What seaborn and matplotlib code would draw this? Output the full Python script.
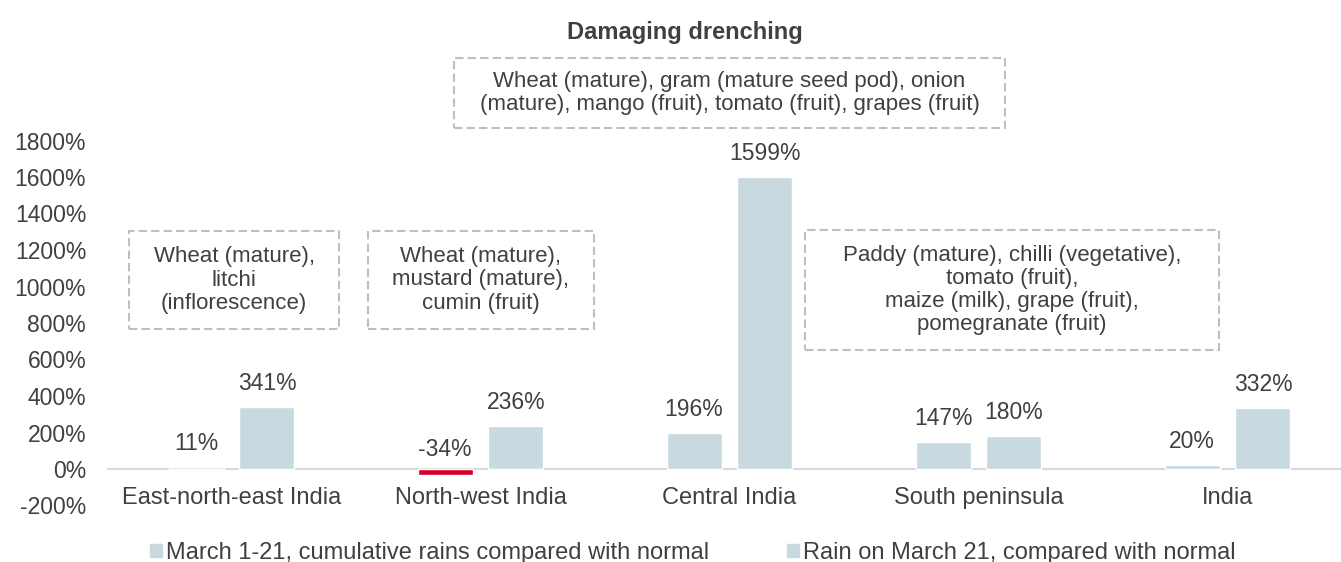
import matplotlib
matplotlib.use("Agg")
import pandas as pd
import seaborn as sns
import matplotlib.pyplot as plt
from matplotlib.patches import Rectangle, Patch

# Chart data
regions = ["East-north-east India", "North-west India", "Central India", "South peninsula", "India"]
cumulative = [11, -34, 196, 147, 20]
march21 = [341, 236, 1599, 180, 332]
series_names = ["March 1-21, cumulative rains compared with normal",
                "Rain on March 21, compared with normal"]
yticks = list(range(-200, 1801, 200))
title = "Damaging drenching"

crop_notes = [
    "Wheat (mature),\nlitchi\n(inflorescence)",
    "Wheat (mature),\nmustard (mature),\ncumin (fruit)",
    "Wheat (mature), gram (mature seed pod), onion\n(mature), mango (fruit), tomato (fruit), grapes (fruit)",
    "Paddy (mature), chilli (vegetative),\ntomato (fruit),\nmaize (milk), grape (fruit),\npomegranate (fruit)",
]
# note boxes in pixels (left, top, right, bottom)
note_boxes = [(129, 231, 339, 329), (368, 231, 594, 329),
              (454, 58, 1005, 128), (805, 230, 1219, 350)]

bar_color = "#c8dadf"
neg_color = "#d7002a"
text_color = "#404040"
W, H = 1341, 562

sns.set_theme(style="white")
plt.rcParams['font.family'] = ['Liberation Sans', 'DejaVu Sans']

df = pd.DataFrame({
    "region": regions * 2,
    "series": [series_names[0]] * len(regions) + [series_names[1]] * len(regions),
    "value": cumulative + march21,
})

fig = plt.figure(figsize=(W / 100, H / 100), dpi=100)
ax = fig.add_axes([107 / W, (H - 505.5) / H, 1 - 107 / W, (505.5 - 140.5) / H])

sns.barplot(data=df, x="region", y="value", hue="series", palette=[bar_color, bar_color],
            width=0.57, gap=0.225, saturation=1, legend=False, ax=ax)

# negative bars in red
for p in ax.patches:
    if p.get_height() < 0:
        p.set_facecolor(neg_color)

# value labels
for cont in ax.containers:
    for bar in cont:
        v = bar.get_height()
        x = bar.get_x() + bar.get_width() / 2
        off = 17 if v >= 0 else 14
        ax.annotate(f"{v:.0f}%", xy=(x, max(v, 0)), xytext=(0, off), textcoords="offset points",
                    ha="center", va="center", fontsize=16.5, color=text_color)

# category labels next to zero line
for i, r in enumerate(regions):
    ax.annotate(r, xy=(i, 0), xytext=(0, -21), textcoords="offset points",
                ha="center", va="center", fontsize=17, color=text_color)

ax.axhline(0, color="#d9d9d9", lw=1.5, zorder=0.5)
ax.set_xlim(-0.5, (W - 231.5) / 249)
ax.set_ylim(-200, 1800)
ax.set_xticks([])
ax.set_yticks(yticks)
ax.set_yticklabels([f"{t}%" for t in yticks], fontsize=16.5, color=text_color)
ax.tick_params(axis="y", length=0, pad=15)
ax.set_xlabel("")
ax.set_ylabel("")
sns.despine(ax=ax, left=True, bottom=True)

# crop notes in dashed boxes
for note, (x0, y0, x1, y1) in zip(crop_notes, note_boxes):
    fig.add_artist(Rectangle((x0 / W, 1 - y1 / H), (x1 - x0) / W, (y1 - y0) / H,
                             transform=fig.transFigure, fill=False, ec="#bfbfbf",
                             lw=1.5, ls=(0, (4, 2))))
    fig.text((x0 + x1) / 2 / W, 1 - (y0 + y1) / 2 / H, note, ha="center", va="center",
             fontsize=16, color=text_color, linespacing=1.14)

fig.text(685 / W, 1 - 32 / H, title, ha="center", va="center", fontsize=17,
         fontweight="bold", color=text_color)

handles = [Patch(color=bar_color), Patch(color=bar_color)]
fig.legend(handles, series_names, loc="center", bbox_to_anchor=(692.5 / W, 1 - 553 / H),
           ncol=2, frameon=False, fontsize=17, labelcolor=text_color,
           handlelength=0.51, handleheight=0.51, handletextpad=0.17, columnspacing=3.3)

fig.savefig("out.png", dpi=100)
